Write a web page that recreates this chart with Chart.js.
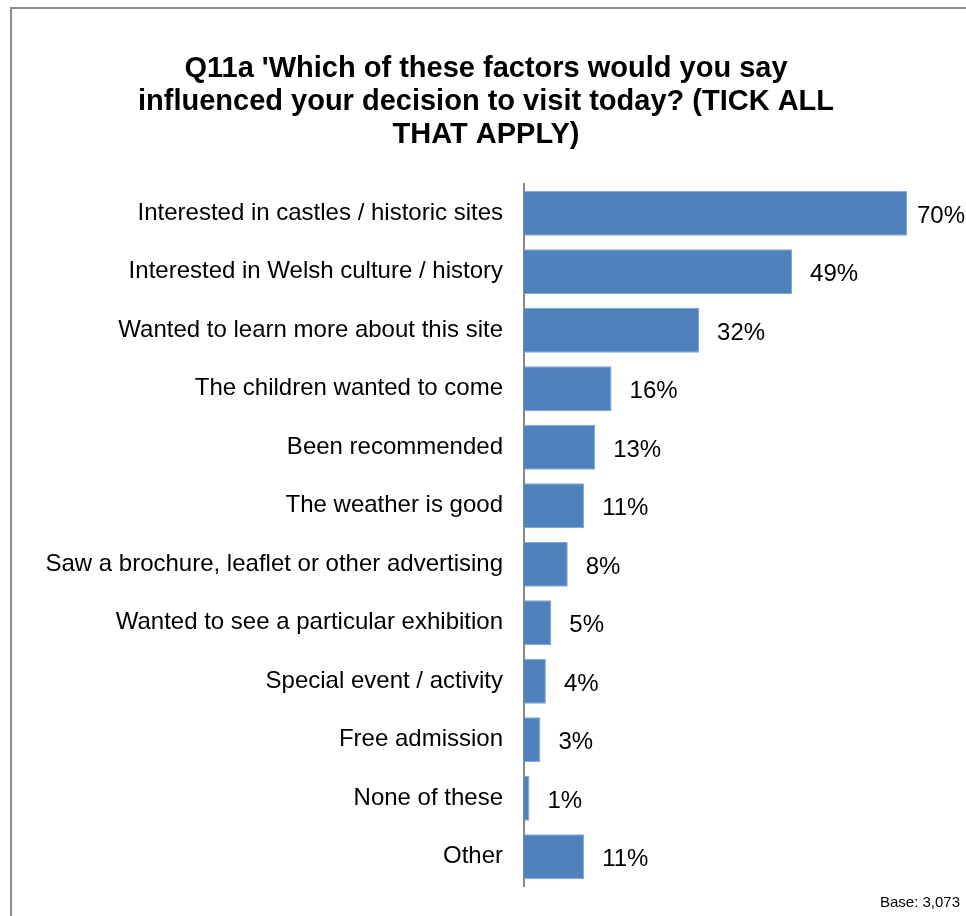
<!DOCTYPE html>
<html>
<head>
<meta charset="utf-8">
<script src="https://cdn.jsdelivr.net/npm/chart.js@4/dist/chart.umd.min.js"></script>
<style>
  html, body { margin: 0; padding: 0; background: #fff; }
  #wrap { position: relative; width: 966px; height: 916px; }
  #frame { position: absolute; left: 10px; top: 7px; width: 970px; height: 920px;
           border: 2px solid #8c8c8c; box-sizing: border-box; }
  canvas { position: absolute; left: 0; top: 0; }
</style>
</head>
<body>
<div id="wrap">
  <div id="frame"></div>
  <canvas id="myChart" width="966" height="916"></canvas>
</div>
<script>
const factors = [
    'Interested in castles / historic sites',
    'Interested in Welsh culture / history',
    'Wanted to learn more about this site',
    'The children wanted to come',
    'Been recommended',
    'The weather is good',
    'Saw a brochure, leaflet or other advertising',
    'Wanted to see a particular exhibition',
    'Special event / activity',
    'Free admission',
    'None of these',
    'Other'
];

const percentages = [70, 49, 32, 16, 13, 11, 8, 5, 4, 3, 1, 11];

const titleLines = [
    "Q11a 'Which of these factors would you say",
    "influenced your decision to visit today? (TICK ALL",
    "THAT APPLY)"
];

const baseNote = 'Base: 3,073';

const FONT = '"Liberation Sans", Arial, sans-serif';

// title, percent labels at the bar ends and the base note
const extras = {
    id: 'extras',
    afterDatasetsDraw(chart) {
        const ctx = chart.ctx;
        const meta = chart.getDatasetMeta(0);
        ctx.save();
        ctx.fillStyle = '#000';

        // title, centred over the whole frame
        ctx.font = 'bold 29px ' + FONT;
        ctx.textAlign = 'center';
        ctx.textBaseline = 'middle';
        titleLines.forEach((line, i) => ctx.fillText(line, 486, 69 + i * 33));

        // percent labels, pulled in if they'd run off the edge
        ctx.font = '24px ' + FONT;
        ctx.textAlign = 'left';
        meta.data.forEach((bar, i) => {
            const txt = percentages[i] + '%';
            const w = ctx.measureText(txt).width;
            let x = bar.x + 18;
            if (x + w > chart.width - 1) x = chart.width - 1 - w;
            ctx.fillText(txt, x, bar.y + 3);
        });

        ctx.font = '15px ' + FONT;
        ctx.textAlign = 'right';
        ctx.fillText(baseNote, 960, 903);
        ctx.restore();
    }
};

const data = {
    labels: factors,
    datasets: [{
        data: percentages,
        backgroundColor: '#4f81bd',
        borderColor: '#7ea3d2',
        borderWidth: 1,
        categoryPercentage: 1,
        barPercentage: 0.77
    }]
};

const config = {
    type: 'bar',
    data,
    plugins: [extras],
    options: {
        indexAxis: 'y',
        responsive: false,
        animation: false,
        layout: { padding: { left: 0, right: 59, top: 184, bottom: 30 } },
        plugins: {
            legend: { display: false },
            tooltip: { enabled: false },
            title: { display: false }
        },
        scales: {
            x: { display: false, min: 0, max: 70 },
            y: {
                // fixed label column; no extra room above/below for the tick labels
                afterFit(scale) {
                    scale.width = 524;
                    scale.paddingTop = 0;
                    scale.paddingBottom = 0;
                },
                grid: { display: false, drawTicks: false },
                border: { display: true, color: '#868686', width: 2 },
                ticks: {
                    color: '#000',
                    padding: 21,
                    font: { family: FONT, size: 24 }
                }
            }
        }
    }
};

var myChart = new Chart(document.getElementById('myChart'), config);
</script>
</body>
</html>
